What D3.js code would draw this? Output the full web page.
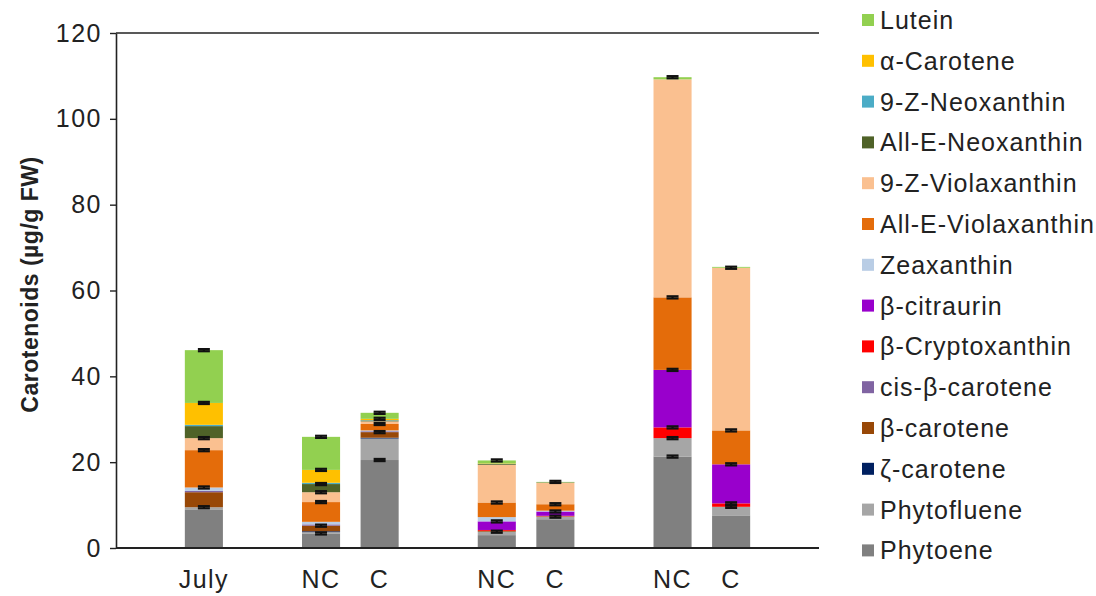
<!DOCTYPE html>
<html>
<head>
<meta charset="utf-8">
<script src="https://cdn.jsdelivr.net/npm/d3@7"></script>
<style>
  html, body { margin: 0; padding: 0; background: #fff; }
  svg { display: block; font-family: "Liberation Sans", Arial, sans-serif; }
</style>
</head>
<body>
<svg id="chart" width="1096" height="596"></svg>
<script>
// Bars, left to right, and the sampling group each bar belongs to
const barLabels = ["July", "NC", "C", "NC", "C", "NC", "C"];
const barGroups = [0, 1, 1, 2, 2, 3, 3];

// Carotenoid content per bar (µg/g FW), stacked bottom to top
const phytoene      = [9.0, 3.4, 20.5, 3.0, 6.7, 21.3, 7.6];
const phytofluene   = [0.5, 0.3, 5.0, 0.8, 0.6, 4.3, 2.0];
const zCarotene     = [0.0, 0.2, 0.2, 0.0, 0.0, 0.0, 0.0];
const bCarotene     = [3.5, 1.3, 1.3, 0.2, 0.1, 0.0, 0.0];
const cisBCarotene  = [0.3, 0.3, 0.2, 0.0, 0.0, 0.0, 0.0];
const bCrypto       = [0.0, 0.0, 0.0, 0.2, 0.1, 2.5, 0.8];
const bCitraurin    = [0.0, 0.0, 0.0, 2.0, 1.0, 13.4, 9.1];
const zeaxanthin    = [0.8, 0.6, 0.2, 1.0, 0.2, 0.0, 0.0];
const allEViola     = [8.7, 4.6, 1.5, 3.4, 1.5, 16.9, 7.9];
const z9Viola       = [2.8, 2.3, 0.6, 8.8, 5.0, 50.8, 37.9];
const allENeo       = [2.8, 1.9, 0.2, 0.2, 0.1, 0.0, 0.0];
const z9Neo         = [0.3, 0.3, 0.1, 0.0, 0.0, 0.0, 0.0];
const aCarotene     = [5.1, 3.0, 0.3, 0.1, 0.0, 0.0, 0.0];
const lutein        = [12.3, 7.7, 1.4, 0.7, 0.1, 0.5, 0.2];

// Standard errors shown on top of selected components
const errPhytoene    = [0.0, 0.25, 0.25, 0.0, 0.0, 0.25, 0.0];
const errPhytofluene = [0.25, 0.0, 0.0, 0.25, 0.25, 0.25, 0.25];
const errBCarotene   = [0.0, 0.25, 0.25, 0.0, 0.0, 0.0, 0.0];
const errBCrypto     = [0.0, 0.0, 0.0, 0.0, 0.0, 0.25, 0.25];
const errBCitraurin  = [0.0, 0.0, 0.0, 0.25, 0.25, 0.25, 0.25];
const errZeaxanthin  = [0.25, 0.0, 0.0, 0.0, 0.0, 0.0, 0.0];
const errAllEViola   = [0.25, 0.25, 0.25, 0.25, 0.25, 0.25, 0.25];
const errZ9Viola     = [0.25, 0.25, 0.0, 0.0, 0.0, 0.0, 0.25];
const errAllENeo     = [0.0, 0.25, 0.0, 0.0, 0.0, 0.0, 0.0];
const errACarotene   = [0.25, 0.25, 0.25, 0.0, 0.0, 0.0, 0.0];
const errLutein      = [0.25, 0.25, 0.25, 0.25, 0.25, 0.25, 0.0];
const zeros          = [0, 0, 0, 0, 0, 0, 0];

const yTicks = [0, 20, 40, 60, 80, 100, 120];

// Stack order (bottom first)
const series = [
  { name: "Phytoene",           color: "#808080", values: phytoene,     err: errPhytoene },
  { name: "Phytofluene",        color: "#a6a6a6", values: phytofluene,  err: errPhytofluene },
  { name: "ζ-carotene",         color: "#002060", values: zCarotene,    err: zeros },
  { name: "β-carotene",         color: "#984807", values: bCarotene,    err: errBCarotene },
  { name: "cis-β-carotene",     color: "#8064a2", values: cisBCarotene, err: zeros },
  { name: "β-Cryptoxanthin",    color: "#ff0000", values: bCrypto,      err: errBCrypto },
  { name: "β-citraurin",        color: "#9900cc", values: bCitraurin,   err: errBCitraurin },
  { name: "Zeaxanthin",         color: "#b9cde5", values: zeaxanthin,   err: errZeaxanthin },
  { name: "All-E-Violaxanthin", color: "#e46c0a", values: allEViola,    err: errAllEViola },
  { name: "9-Z-Violaxanthin",   color: "#fac090", values: z9Viola,      err: errZ9Viola },
  { name: "All-E-Neoxanthin",   color: "#4f6228", values: allENeo,      err: errAllENeo },
  { name: "9-Z-Neoxanthin",     color: "#4bacc6", values: z9Neo,        err: zeros },
  { name: "α-Carotene",         color: "#ffc000", values: aCarotene,    err: errACarotene },
  { name: "Lutein",             color: "#92d050", values: lutein,       err: errLutein }
];

const svg = d3.select("#chart");
const margin = { left: 116, right: 277, top: 33, bottom: 48 };
const W = 1096, H = 596;
const x0 = margin.left, x1 = W - margin.right;
const yTop = margin.top, yBot = H - margin.bottom;

// Category slots: an empty slot before each group and one after the last
const slots = [];
let prevGroup = -1;
barLabels.forEach((lab, i) => {
  if (barGroups[i] !== prevGroup) { slots.push("gap" + barGroups[i]); prevGroup = barGroups[i]; }
  slots.push("bar" + i);
});
slots.push("gapEnd");

const x = d3.scaleBand().domain(slots).range([x0, x1]).padding(0);
const barW = x.bandwidth() * 0.65;
const y = d3.scaleLinear().domain([0, 120]).range([yBot, yTop]);

// Stacked layout
const rows = barLabels.map((lab, i) => {
  const r = { key: "bar" + i };
  series.forEach(s => { r[s.name] = s.values[i]; });
  return r;
});
const stacked = d3.stack().keys(series.map(s => s.name))(rows);

const plot = svg.append("g");

stacked.forEach((layer, si) => {
  plot.append("g")
    .attr("fill", series[si].color)
    .selectAll("rect")
    .data(layer.filter(d => d[1] > d[0]))
    .join("rect")
    .attr("x", d => x(d.data.key) + (x.bandwidth() - barW) / 2)
    .attr("width", barW)
    .attr("y", d => y(d[1]))
    .attr("height", d => y(d[0]) - y(d[1]));
});

// Error bars at the top of each component
const capW = 12;
stacked.forEach((layer, si) => {
  const err = series[si].err;
  layer.forEach((d, i) => {
    const e = err[i];
    if (!e || d[1] <= d[0]) return;
    const cx = x(d.data.key) + x.bandwidth() / 2;
    const g = plot.append("g").attr("stroke", "#111").attr("stroke-width", 2.2);
    g.append("line").attr("x1", cx).attr("x2", cx).attr("y1", y(d[1] + e)).attr("y2", y(d[1] - e));
    g.append("line").attr("x1", cx - capW / 2).attr("x2", cx + capW / 2).attr("y1", y(d[1] + e)).attr("y2", y(d[1] + e));
    g.append("line").attr("x1", cx - capW / 2).attr("x2", cx + capW / 2).attr("y1", y(d[1] - e)).attr("y2", y(d[1] - e));
  });
});

// Axes
const yAxis = d3.axisLeft(y).tickValues(yTicks).tickSize(6).tickPadding(8).tickSizeOuter(0);
const gy = svg.append("g").attr("transform", `translate(${x0},0)`).call(yAxis);
gy.select(".domain").attr("stroke", "#222").attr("stroke-width", 1.6);
gy.selectAll(".tick line").attr("stroke", "#222").attr("stroke-width", 1.4);
gy.selectAll(".tick text").attr("font-size", 25).attr("fill", "#222")
  .attr("letter-spacing", 1.5)
  .attr("font-family", "Liberation Sans, Arial, sans-serif");

// Top frame line and baseline
svg.append("line").attr("x1", x0).attr("x2", x1).attr("y1", yTop).attr("y2", yTop)
  .attr("stroke", "#222").attr("stroke-width", 1.4);
svg.append("line").attr("x1", x0).attr("x2", x1).attr("y1", yBot).attr("y2", yBot)
  .attr("stroke", "#222").attr("stroke-width", 1.8);

// Category labels
svg.append("g").selectAll("text")
  .data(barLabels)
  .join("text")
  .attr("x", (d, i) => x("bar" + i) + x.bandwidth() / 2)
  .attr("y", 588)
  .attr("text-anchor", "middle")
  .attr("font-size", 25)
  .attr("letter-spacing", 1.5)
  .attr("fill", "#222")
  .text(d => d);

// Y axis title
svg.append("text")
  .attr("transform", `translate(38,${(yTop + yBot) / 2 - 6}) rotate(-90)`)
  .attr("text-anchor", "middle")
  .attr("font-size", 23)
  .attr("font-weight", "bold")
  .attr("letter-spacing", 0.5)
  .attr("fill", "#222")
  .text("Carotenoids (µg/g FW)");

// Legend, top entry is the top of the stack
const legendItems = series.slice().reverse();
const lg = svg.append("g").attr("transform", "translate(862,20)");
const rowH = 40.8;
const li = lg.selectAll("g").data(legendItems).join("g")
  .attr("transform", (d, i) => `translate(0,${i * rowH})`);
li.append("rect").attr("x", 0).attr("y", -6).attr("width", 12).attr("height", 12)
  .attr("fill", d => d.color);
li.append("text").attr("x", 18).attr("y", 0).attr("dy", "0.36em")
  .attr("font-size", 25).attr("letter-spacing", 1).attr("fill", "#222").text(d => d.name);
</script>
</body>
</html>
